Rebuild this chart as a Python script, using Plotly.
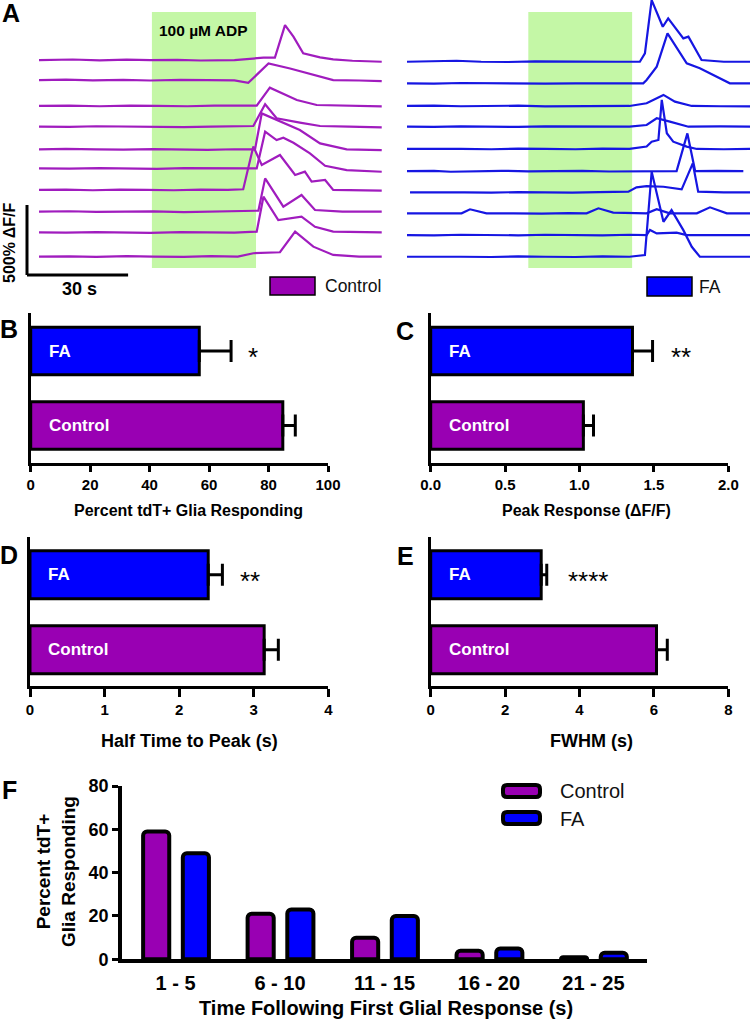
import plotly.graph_objects as go

# ---------------- DATA ----------------
# Panel A: calcium traces (time in s, amplitude in % dF/F relative to each trace's baseline)
adp_window_ctrl = [33.5, 64.4]
adp_window_fa = [36.0, 66.8]
scale_bar_time = 30      # s
scale_bar_amp = 500      # % dF/F

ctrl_offsets = [1714, 1571, 1386, 1238, 1076, 940, 786, 631, 483, 310]
ctrl_t = [
    [0, 10, 18, 26, 33, 41, 48, 55, 58, 66.6, 70, 73, 75.5, 78.4, 83.4, 87.3, 93, 101.7],
    [0, 8, 16, 25, 33, 42, 50, 58, 62.1, 68.1, 74.5, 80.4, 87.3, 95, 101.7],
    [0, 9, 18, 27, 35, 44, 52, 60, 64.6, 68.5, 76.5, 82.4, 92, 101.7],
    [0, 9, 17, 26, 34, 43, 51, 59, 63.6, 67.1, 70.5, 77.4, 83.4, 92, 101.7],
    [0, 8, 17, 25, 34, 42, 50, 58, 64.1, 66.1, 72.5, 77.4, 83.4, 91.3, 101.7],
    [0, 9, 18, 26, 35, 43, 52, 60, 64.6, 67.1, 70.5, 72.5, 75.5, 80.4, 84.9, 91.3, 101.7],
    [0, 8, 16, 24, 32, 40, 48, 56, 60.6, 63.6, 66.1, 71.5, 76, 78.9, 80.9, 84.9, 87.3, 101.7],
    [0, 9, 17, 26, 34, 43, 51, 59, 65.1, 67.1, 72.5, 77.9, 81.9, 90, 101.7],
    [0, 8, 17, 25, 33, 42, 50, 58, 64.6, 66.6, 71, 77.9, 81.9, 87.3, 101.7],
    [0, 9, 17, 26, 34, 43, 51, 59, 63.6, 71.5, 76, 81.4, 87.3, 95, 101.7],
]
ctrl_amp = [
    [0, 4, -2, 3, 0, 2, -3, 1, 0, 17, 17, 250, 167, 48, 19, 5, -5, -12],
    [0, 3, -2, 2, -3, 2, 0, -2, -20, 119, 83, 43, 0, -3, -7],
    [0, 2, -2, 3, 0, -2, 2, 0, 2, 131, 43, 7, 0, -3],
    [0, -2, 3, 0, 2, -3, 0, 2, 5, 160, 60, 29, 5, 0, -5],
    [0, 3, 0, -2, 2, 0, -3, 1, 0, 257, 190, 138, 43, 0, -5],
    [0, -2, 2, 0, -3, 2, 0, -1, 0, 262, 202, 219, 183, 107, 19, -12, -24],
    [0, 2, -2, 3, 0, -2, 2, 0, 5, 310, 179, 250, 107, 131, 60, 71, 0, -5],
    [0, 3, -2, 0, 2, -3, 0, 2, 7, 238, 36, 119, 12, 0, 0],
    [0, -2, 2, 0, -3, 2, 0, -2, 5, 255, 88, 112, 40, 5, 0],
    [0, 2, -2, 3, 0, -2, 3, 0, 24, 31, 179, 71, 12, 0, 0],
]

fa_offsets = [1702, 1548, 1386, 1238, 1079, 921, 769, 619, 464, 309]
fa_t = [
    [0, 7, 14.7, 22, 30, 38, 46, 54, 62, 69.1, 70.6, 72.6, 75.9, 77.5, 82, 83.5, 87.4, 94, 101.8],
    [0, 8, 16, 25, 33, 41, 50, 58, 66, 70.1, 71.1, 74.1, 77.3, 83, 86.9, 95.8, 101.8],
    [0, 8, 16, 25, 33, 41, 50, 58, 66, 71.1, 76.1, 79.5, 84.5, 93, 101.8],
    [0, 8, 16, 25, 33, 41, 50, 58, 66, 71.1, 74.1, 78, 83.5, 93, 101.8],
    [0, 8, 16, 25, 33, 41, 50, 58, 66, 71.1, 72.6, 74.6, 75.6, 77.1, 79, 83, 86, 94, 101.8],
    [0, 8, 13, 20, 28, 36, 44, 52, 60, 68, 76, 80, 83.2, 85.5, 92, 99.8],
    [0.9, 9, 17, 25, 33, 41, 49, 57, 65.7, 68.1, 71.1, 76.1, 81.5, 84.8, 86.4, 94, 101.8],
    [0, 8, 16.2, 18.7, 23.6, 31.6, 40, 48, 53.3, 56.8, 61.2, 71.1, 74.1, 78, 86, 89.9, 94.9, 101.8],
    [0, 8, 16, 25, 33, 41, 50, 58, 66, 71.1, 72.1, 74.1, 80, 83, 92, 101.8],
    [0, 8, 16, 25, 33, 41, 50, 58, 66, 70.6, 72.6, 76.1, 78.5, 82, 84.5, 86.9, 94, 101.8],
]
fa_amp = [
    [0, 2, 7, 0, -2, 2, 0, -2, 0, 0, 60, 440, 250, 310, 167, 179, 12, 0, 0],
    [0, -2, 2, 0, 3, -2, 0, 2, 0, 0, 24, 119, 357, 143, 107, 0, 0],
    [0, 2, -2, 0, 2, -3, 0, 2, 0, 19, 79, 31, 0, -2, -3],
    [0, -2, 2, 0, -2, 2, 0, -3, 0, 12, 60, 36, 0, 2, 0],
    [0, 2, 0, -2, 2, 0, -2, 2, 0, 17, 52, 64, 350, 112, 52, 17, 0, -2, 0],
    [0, 2, -5, 0, 2, -2, 0, 2, -3, 0, 2, 0, 269, 0, 2, 0],
    [0, 2, 0, -2, 2, 0, -2, 2, 5, 36, 45, 40, 21, 207, 5, 0, 0],
    [0, 2, 0, 29, 0, 0, -2, 2, 0, 36, 5, 0, 29, 0, 0, 43, 0, 0],
    [0, -2, 2, 0, -2, 2, 0, -2, 2, 0, 36, 12, 17, 0, 0, 0],
    [0, 2, 0, -2, 2, 0, -2, 2, 0, 12, 607, 250, 333, 190, 71, 0, 0, 0],
]

# Panels B-E
groups = ["FA", "Control"]
pct_resp = [56.7, 84.8]
pct_resp_err = [10.7, 4.2]
peak_resp = [1.356, 1.026]
peak_resp_err = [0.135, 0.068]
half_time = [2.39, 3.14]
half_time_err = [0.19, 0.19]
fwhm = [2.97, 6.07]
fwhm_err = [0.15, 0.29]
significance = ["*", "**", "**", "****"]

# Panel F
bins = ["1 - 5", "6 - 10", "11 - 15", "16 - 20", "21 - 25"]
dist_ctrl = [59, 21, 10, 4, 1]
dist_fa = [49, 23, 20, 5, 3]

# ---------------- STYLE ----------------
W, H = 750, 1021
PURPLE = "#9900B3"
BLUE = "#0000FF"
TR_PURPLE = "#A01CBE"
TR_BLUE = "#1616E2"
GREEN = "#C4F7A6"
SANS = "Liberation Sans, Arial, sans-serif"


def fx(p):
    return p / W


def fy(p):
    return 1 - p / H


fig = go.Figure()

# ---------- Panel A traces ----------
for t, a, off in zip(ctrl_t, ctrl_amp, ctrl_offsets):
    fig.add_trace(go.Scatter(x=t, y=[v + off for v in a], mode="lines",
                             line=dict(color=TR_PURPLE, width=2.2),
                             xaxis="x", yaxis="y", showlegend=False, hoverinfo="skip"))
for t, a, off in zip(fa_t, fa_amp, fa_offsets):
    fig.add_trace(go.Scatter(x=t, y=[v + off for v in a], mode="lines",
                             line=dict(color=TR_BLUE, width=2.2),
                             xaxis="x2", yaxis="y", showlegend=False, hoverinfo="skip"))

# ---------- Panels B-E bars ----------
bar_sets = [(pct_resp, pct_resp_err, "3"), (peak_resp, peak_resp_err, "4"),
            (half_time, half_time_err, "5"), (fwhm, fwhm_err, "6")]
for vals, errs, k in bar_sets:
    fig.add_trace(go.Bar(x=vals, y=groups, orientation="h", width=0.64,
                         marker=dict(color=[BLUE, PURPLE], line=dict(color="black", width=3)),
                         error_x=dict(type="data", array=errs, arrayminus=[0, 0], symmetric=False,
                                      color="black", thickness=3, width=11),
                         xaxis="x" + k, yaxis="y" + k, showlegend=False, hoverinfo="skip"))

# ---------- Panel F ----------
fig.add_trace(go.Bar(x=bins, y=dist_ctrl, offset=-0.31, width=0.25,
                     marker=dict(color=PURPLE, line=dict(color="black", width=4), cornerradius=4),
                     xaxis="x7", yaxis="y7", showlegend=False, hoverinfo="skip"))
fig.add_trace(go.Bar(x=bins, y=dist_fa, offset=0.07, width=0.25,
                     marker=dict(color=BLUE, line=dict(color="black", width=4), cornerradius=4),
                     xaxis="x7", yaxis="y7", showlegend=False, hoverinfo="skip"))

hidden = dict(visible=False, showgrid=False, zeroline=False, fixedrange=True, automargin=False)
layout = dict(
    template="none",
    width=W, height=H, margin=dict(l=0, r=0, t=0, b=0, pad=0, autoexpand=False),
    paper_bgcolor="white", plot_bgcolor="rgba(0,0,0,0)",
    showlegend=False, barmode="overlay",
    font=dict(family=SANS, color="black"),
    xaxis=dict(hidden, domain=[0, fx(390)], range=[(0 - 39) / 3.37, (390 - 39) / 3.37], anchor="y"),
    xaxis2=dict(hidden, domain=[fx(400), 1], range=[(400 - 407) / 3.37, (750 - 407) / 3.37], anchor="y"),
    yaxis=dict(hidden, domain=[fy(300), 1], range=[0, 2143], anchor="x"),
)


def bar_xaxis(dom, rng, dtick, fmt, fsize, anchor, ticklen):
    return dict(domain=dom, range=rng, dtick=dtick, tick0=0, tickformat=fmt, anchor=anchor,
                showline=True, linewidth=3, linecolor="black", ticks="outside", ticklen=ticklen,
                tickwidth=3, tickcolor="black", showgrid=False, zeroline=False, automargin=False,
                tickfont=dict(family=SANS, size=fsize, weight="bold", color="black"))


def bar_yaxis(dom, rng, anchor):
    return dict(domain=dom, type="category", categoryarray=groups, range=rng, anchor=anchor,
                showline=True, linewidth=3, linecolor="black", ticks="", showticklabels=False,
                showgrid=False, zeroline=False, automargin=False)


BC_y = [fy(463), fy(313)]
DE_y = [fy(686), fy(537)]
layout["xaxis3"] = bar_xaxis([fx(30.7), fx(328)], [0, 100], 20, "d", 15, "y3", 6)
layout["yaxis3"] = bar_yaxis(BC_y, [1.503, -0.51], "x3")
layout["xaxis4"] = bar_xaxis([fx(430.7), fx(728.3)], [0, 2], 0.5, ".1f", 15, "y4", 6)
layout["yaxis4"] = bar_yaxis(BC_y, [1.503, -0.51], "x4")
layout["xaxis5"] = bar_xaxis([fx(30), fx(328.3)], [0, 4], 1, "d", 15, "y5", 8)
layout["yaxis5"] = bar_yaxis(DE_y, [1.484, -0.503], "x5")
layout["xaxis6"] = bar_xaxis([fx(430.7), fx(728.3)], [0, 8], 2, "d", 15, "y6", 8)
layout["yaxis6"] = bar_yaxis(DE_y, [1.484, -0.503], "x6")

layout["xaxis7"] = dict(domain=[fx(121.7), fx(646.7)], type="category", categoryarray=bins,
                        range=[-0.515, 4.51], anchor="y7", showline=True, linewidth=3.5,
                        linecolor="black", ticks="outside", ticklen=3, tickcolor="rgba(0,0,0,0)",
                        showgrid=False, zeroline=False, automargin=False,
                        tickfont=dict(family=SANS, size=20, weight="bold", color="black"))
layout["yaxis7"] = dict(domain=[fy(959.3), fy(786)], range=[0, 80], dtick=20, tick0=0, anchor="x7",
                        showline=True, linewidth=3.5, linecolor="black", ticks="outside", ticklen=6,
                        tickwidth=3, tickcolor="black", showgrid=False, zeroline=False, automargin=False,
                        tickfont=dict(family=SANS, size=18, weight="bold", color="black"))
fig.update_layout(layout)

# ---------- shapes ----------
shapes = []
shapes.append(dict(type="rect", xref="x", yref="paper", x0=adp_window_ctrl[0], x1=adp_window_ctrl[1],
                   y0=fy(268), y1=fy(12), fillcolor=GREEN, line=dict(width=0), layer="below"))
shapes.append(dict(type="rect", xref="x2", yref="paper", x0=adp_window_fa[0], x1=adp_window_fa[1],
                   y0=fy(268), y1=fy(12), fillcolor=GREEN, line=dict(width=0), layer="below"))
# scale bars (in left-trace data units)
sb_x0 = (27 - 39) / 3.37
sb_y0 = (300 - 275) * 2143 / 300
shapes.append(dict(type="line", xref="x", yref="y", x0=sb_x0, x1=sb_x0 + scale_bar_time,
                   y0=sb_y0, y1=sb_y0, line=dict(color="black", width=3)))
shapes.append(dict(type="line", xref="x", yref="y", x0=sb_x0, x1=sb_x0,
                   y0=sb_y0, y1=sb_y0 + scale_bar_amp, line=dict(color="black", width=3)))
# A legend boxes
shapes.append(dict(type="rect", xref="paper", yref="paper", x0=fx(270), x1=fx(315), y0=fy(295), y1=fy(277),
                   fillcolor=PURPLE, line=dict(color="black", width=1.5)))
shapes.append(dict(type="rect", xref="paper", yref="paper", x0=fx(647), x1=fx(692), y0=fy(296), y1=fy(277),
                   fillcolor=BLUE, line=dict(color="black", width=1.5)))


def rrect(x0, y0, x1, y1, r):
    X0, X1, Y0, Y1 = fx(x0), fx(x1), fy(y0), fy(y1)
    rx, ry = r / W, r / H
    return (f"M {X0+rx},{Y0} L {X1-rx},{Y0} Q {X1},{Y0} {X1},{Y0-ry} L {X1},{Y1+ry} "
            f"Q {X1},{Y1} {X1-rx},{Y1} L {X0+rx},{Y1} Q {X0},{Y1} {X0},{Y1+ry} "
            f"L {X0},{Y0-ry} Q {X0},{Y0} {X0+rx},{Y0} Z")


shapes.append(dict(type="path", xref="paper", yref="paper", path=rrect(503, 785, 540, 797, 4),
                   fillcolor=PURPLE, line=dict(color="black", width=4)))
shapes.append(dict(type="path", xref="paper", yref="paper", path=rrect(503, 812, 540, 824, 4),
                   fillcolor=BLUE, line=dict(color="black", width=4)))
fig.update_layout(shapes=shapes)

# ---------- annotations ----------
ann = []


def txt(text, x, y, size, bold=True, color="black", xanchor="center", angle=0):
    ann.append(dict(text=text, x=fx(x), y=fy(y), xref="paper", yref="paper", showarrow=False,
                    xanchor=xanchor, yanchor="middle", textangle=angle,
                    font=dict(family=SANS, size=size, color=color, weight="bold" if bold else "normal")))


for lab, x, y in [("A", 11, 13), ("B", 9, 329), ("C", 405, 331), ("D", 9, 555), ("E", 405, 556), ("F", 9, 790)]:
    txt(lab, x, y, 25)
txt("100 µM ADP", 203, 31, 15.5)
txt("500% ΔF/F", 9, 243, 16, angle=-90)
txt("30 s", 79, 289, 18)
txt("Control", 323, 286, 17.5, bold=False, xanchor="left", color="#111")
txt("FA", 697, 287, 17.5, bold=False, xanchor="left", color="#111")

txt("Percent tdT+ Glia Responding", 188, 510, 16)
txt("Peak Response (ΔF/F)", 586, 510, 16)
txt("Half Time to Peak (s)", 189, 741, 18)
txt("FWHM (s)", 591, 741, 18)
txt("Percent tdT+<br>Glia Responding", 56, 872, 19, angle=-90)
txt("Time Following First Glial Response (s)", 386, 1008, 20)
txt("Control", 558, 791, 20, bold=False, xanchor="left", color="#111")
txt("FA", 558, 819, 20, bold=False, xanchor="left", color="#111")

# in-bar labels and significance
for k in ["3", "4", "5", "6"]:
    for g in groups:
        ann.append(dict(text=g, x=0, y=g, xref="x" + k + " domain", yref="y" + k, showarrow=False,
                        xanchor="left", xshift=16, font=dict(family=SANS, size=17, color="white", weight="bold")))
sig_pos = [("3", 74.8), ("4", 1.68), ("5", 2.95), ("6", 4.24)]
for (k, xv), s in zip(sig_pos, significance):
    ann.append(dict(text=s, x=xv, y="FA", xref="x" + k, yref="y" + k, showarrow=False,
                    xanchor="center", yshift=-6, font=dict(family=SANS, size=26, color="black")))

fig.update_layout(annotations=ann)
fig.write_html("out.html", config={"displayModeBar": False, "staticPlot": True},
               post_script="document.body.style.margin='0';document.body.style.overflow='hidden';"
                           "document.documentElement.style.overflow='hidden';")
